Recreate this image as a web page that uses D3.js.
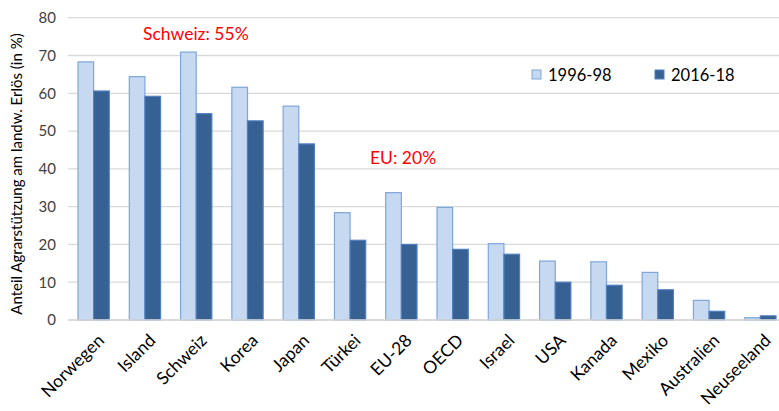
<!DOCTYPE html>
<html>
<head>
<meta charset="utf-8">
<script src="https://cdn.jsdelivr.net/npm/d3@7"></script>
<style>
  body { margin: 0; background: #fff; }
  svg { font-family: Lato, "Liberation Sans", sans-serif; }
</style>
</head>
<body>
<svg class="chart"></svg>
<script>
// data
let countries = ["Norwegen","Island","Schweiz","Korea","Japan","Türkei","EU-28","OECD","Israel","USA","Kanada","Mexiko","Australien","Neuseeland"];
let v1996 = [68.3, 64.4, 70.9, 61.6, 56.6, 28.4, 33.7, 29.8, 20.2, 15.6, 15.4, 12.6, 5.2, 0.6];
let v2016 = [60.6, 59.2, 54.6, 52.7, 46.6, 21.1, 20.0, 18.7, 17.4, 10.0, 9.2, 8.0, 2.3, 1.1];
let series = ["1996-98", "2016-18"];
let yTicks = [0, 10, 20, 30, 40, 50, 60, 70, 80];

let svgWidth = 779, svgHeight = 411;
let svg = d3.select(".chart").attr("width", svgWidth).attr("height", svgHeight);

// plot area (right side runs out of the picture, like the original)
let x0 = d3.scaleBand().domain(countries).range([68, 786]).paddingInner(0.39).paddingOuter(0.195);
let x1 = d3.scaleBand().domain(series).range([0, x0.bandwidth()]);
let y = d3.scaleLinear().domain([0, 80]).range([320, 17.7]);

// gridlines
svg.append("g")
  .selectAll("line")
  .data(yTicks)
  .enter().append("line")
    .attr("x1", 68).attr("x2", svgWidth)
    .attr("y1", d => y(d)).attr("y2", d => y(d))
    .attr("stroke", "#d9d9d9").attr("stroke-width", 1.3);

// y axis labels
let yAxis = d3.axisLeft(y).tickValues(yTicks).tickSize(0).tickPadding(12);
let gy = svg.append("g").attr("transform", "translate(68,0)").call(yAxis);
gy.select(".domain").remove();
gy.selectAll("text").attr("font-size", 15).attr("fill", "#404040").attr("font-family", "Lato, sans-serif");

// bars
let colors = { "1996-98": ["#c6d9f1", "#7ea6d9"], "2016-18": ["#376093", "#4f7fc0"] };
let groups = svg.append("g").selectAll("g")
  .data(countries)
  .enter().append("g")
    .attr("transform", d => "translate(" + x0(d) + ",0)");

groups.selectAll("rect")
  .data((d, i) => [{ s: "1996-98", v: v1996[i] }, { s: "2016-18", v: v2016[i] }])
  .enter().append("rect")
    .attr("x", d => x1(d.s))
    .attr("y", d => y(d.v))
    .attr("width", x1.bandwidth())
    .attr("height", d => y(0) - y(d.v))
    .attr("fill", d => colors[d.s][0])
    .attr("stroke", d => colors[d.s][1])
    .attr("stroke-width", 1.2);

// x axis line + rotated labels
svg.append("line")
  .attr("x1", 68).attr("x2", svgWidth)
  .attr("y1", y(0)).attr("y2", y(0))
  .attr("stroke", "#d9d9d9").attr("stroke-width", 1.3);

svg.append("g").selectAll("text")
  .data(countries)
  .enter().append("text")
    .attr("transform", d => "translate(" + (x0(d) + x0.bandwidth() / 2 + 3) + ",333) rotate(-45)")
    .attr("text-anchor", "end")
    .attr("dy", "0.7em")
    .attr("font-size", 17.5)
    .attr("fill", "#000")
    .text(d => d);

// y axis title
svg.append("text")
  .attr("transform", "translate(22,174) rotate(-90)")
  .attr("text-anchor", "middle")
  .attr("font-size", 15)
  .attr("fill", "#000")
  .text("Anteil Agrarstützung am landw. Erlös (in %)");

// legend
let legX = [532, 655];
series.forEach((s, i) => {
  svg.append("rect")
    .attr("x", legX[i]).attr("y", 70).attr("width", 9).attr("height", 9)
    .attr("fill", colors[s][0]).attr("stroke", colors[s][1]);
  svg.append("text")
    .attr("x", legX[i] + 16).attr("y", 81)
    .attr("font-size", 16.5).attr("fill", "#000")
    .text(s);
});

// red notes
svg.append("text").attr("x", 143).attr("y", 40).attr("font-size", 17.5).attr("fill", "#ff0000").text("Schweiz: 55%");
svg.append("text").attr("x", 370).attr("y", 164).attr("font-size", 17.5).attr("fill", "#ff0000").text("EU: 20%");
</script>
</body>
</html>
